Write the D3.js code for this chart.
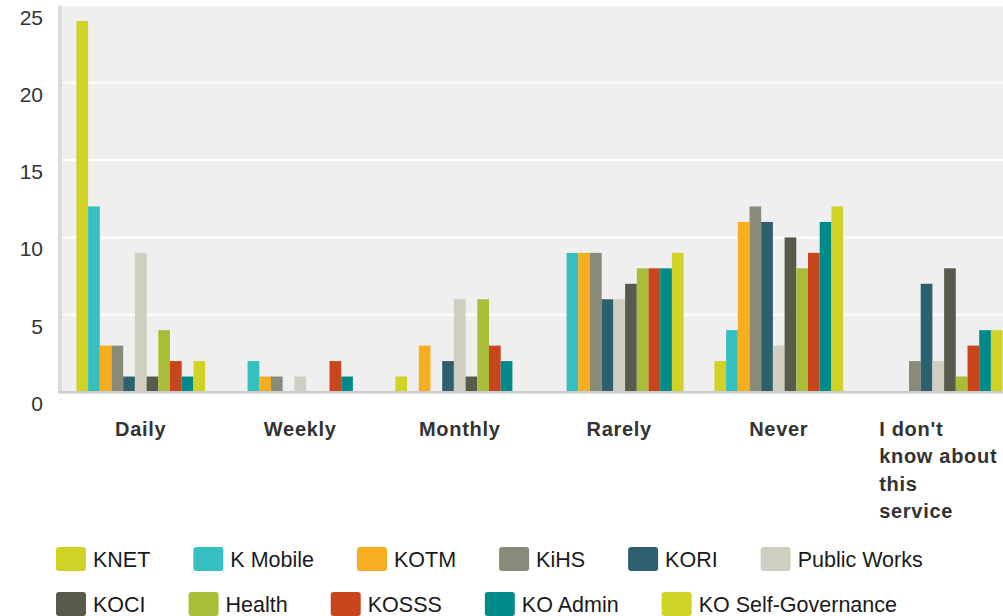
<!DOCTYPE html>
<html>
<head>
<meta charset="utf-8">
<script src="https://cdn.jsdelivr.net/npm/d3@7"></script>
<style>
  body { margin: 0; background: #fff; }
  svg { display: block; font-family: "Liberation Sans", Arial, sans-serif; }
</style>
</head>
<body>
<div id="chart"></div>
<script>
// categories along the x axis
var categories = ["Daily", "Weekly", "Monthly", "Rarely", "Never", "I don't know about this service"];
// how the long category label breaks into lines
var categoryLines = [["Daily"], ["Weekly"], ["Monthly"], ["Rarely"], ["Never"],
                     ["I don't", "know about", "this", "service"]];
// series (services), in bar order
var series = ["KNET", "K Mobile", "KOTM", "KiHS", "KORI", "Public Works",
              "KOCI", "Health", "KOSSS", "KO Admin", "KO Self-Governance"];
var colors = ["#d0d325", "#35bfc1", "#f7ae1e", "#8a8a7a", "#2d606e", "#cfcec0",
              "#5a5a4c", "#a9bd38", "#c9461c", "#008a8a", "#d0d325"];
// values per series, one per category
var KNET          = [24, 0, 1, 0, 2, 0];
var KMobile       = [12, 2, 0, 9, 4, 0];
var KOTM          = [3, 1, 3, 9, 11, 0];
var KiHS          = [3, 1, 0, 9, 12, 2];
var KORI          = [1, 0, 2, 6, 11, 7];
var PublicWorks   = [9, 1, 6, 6, 3, 2];
var KOCI          = [1, 0, 1, 7, 10, 8];
var Health        = [4, 0, 6, 8, 8, 1];
var KOSSS         = [2, 2, 3, 8, 9, 3];
var KOAdmin       = [1, 1, 2, 8, 11, 4];
var KOSelfGov     = [2, 0, 0, 9, 12, 4];
var yTicks = [0, 5, 10, 15, 20, 25];

var values = [KNET, KMobile, KOTM, KiHS, KORI, PublicWorks, KOCI, Health, KOSSS, KOAdmin, KOSelfGov];

var W = 1003, H = 616;
var svg = d3.select("#chart").append("svg").attr("width", W).attr("height", H);

var plotLeft = 61, plotRight = 1018, plotTop = 5.5, plotBottom = 392;

var x0 = d3.scaleBand().domain(categories).range([plotLeft, plotRight])
  .paddingInner(0.193).paddingOuter(0.0965);
var x1 = d3.scaleBand().domain(series).range([0, x0.bandwidth()]);
var y = d3.scaleLinear().domain([0, 25]).range([plotBottom, plotTop]);
var color = d3.scaleOrdinal().domain(series).range(colors);

// plot background
svg.append("rect").attr("x", 62).attr("y", plotTop).attr("width", plotRight - 62)
  .attr("height", plotBottom - plotTop).attr("fill", "#efefef");
svg.append("rect").attr("x", 58).attr("y", plotTop).attr("width", 4)
  .attr("height", plotBottom - plotTop).attr("fill", "#dcdcdc");

// gridlines
svg.append("g").selectAll("line").data(yTicks.filter(function(d) { return d > 0; }))
  .enter().append("line")
  .attr("x1", 62).attr("x2", plotRight)
  .attr("y1", function(d) { return y(d); }).attr("y2", function(d) { return y(d); })
  .attr("stroke", "#fff").attr("stroke-width", 2);

// y labels
svg.append("g").selectAll("text").data(yTicks).enter().append("text")
  .attr("x", 43).attr("y", function(d) { return y(d) + 19; })
  .attr("text-anchor", "end").attr("fill", "#333").style("font-size", "21px")
  .text(function(d) { return d; });

// bars
var groups = svg.append("g").selectAll("g").data(categories).enter().append("g")
  .attr("transform", function(d) { return "translate(" + x0(d) + ",0)"; });
groups.selectAll("rect")
  .data(function(c, ci) { return series.map(function(s, si) { return { s: s, v: values[si][ci] }; }); })
  .enter().append("rect")
  .attr("x", function(d) { return x1(d.s); })
  .attr("width", x1.bandwidth())
  .attr("y", function(d) { return y(d.v); })
  .attr("height", function(d) { return plotBottom - y(d.v); })
  .attr("fill", function(d) { return color(d.s); });

// bottom axis line
svg.append("rect").attr("x", 58).attr("y", plotBottom - 1).attr("width", plotRight - 58)
  .attr("height", 2.5).attr("fill", "#cccccc");

// x labels, block centred on the band, lines left-aligned
svg.append("g").selectAll("text").data(categories).enter().append("text")
  .attr("fill", "#333").style("font-size", "20px").style("font-weight", "bold")
  .style("letter-spacing", "0.7px")
  .each(function(d, i) {
    var t = d3.select(this);
    var cx = x0(d) + x0.bandwidth() / 2;
    var spans = categoryLines[i].map(function(l, k) {
      return t.append("tspan").attr("y", 436 + k * 27.3).text(l);
    });
    var maxW = d3.max(spans, function(s) { return s.node().getComputedTextLength(); });
    spans.forEach(function(s) { s.attr("x", cx - maxW / 2); });
  });

// legend, flowing rows
var legend = svg.append("g");
var lx = 56, ly = 547;
series.forEach(function(s, i) {
  var g = legend.append("g");
  var txt = g.append("text").attr("fill", "#1a1a1a").style("font-size", "21.5px").text(s);
  var tw = txt.node().getComputedTextLength();
  if (lx + 37 + tw > W - 5) { lx = 56; ly += 45; }
  g.insert("rect", "text").attr("x", lx).attr("y", ly).attr("width", 30).attr("height", 24)
    .attr("rx", 3).attr("fill", color(s));
  txt.attr("x", lx + 37).attr("y", ly + 20);
  lx = lx + 37 + tw + 43;
});
</script>
</body>
</html>
